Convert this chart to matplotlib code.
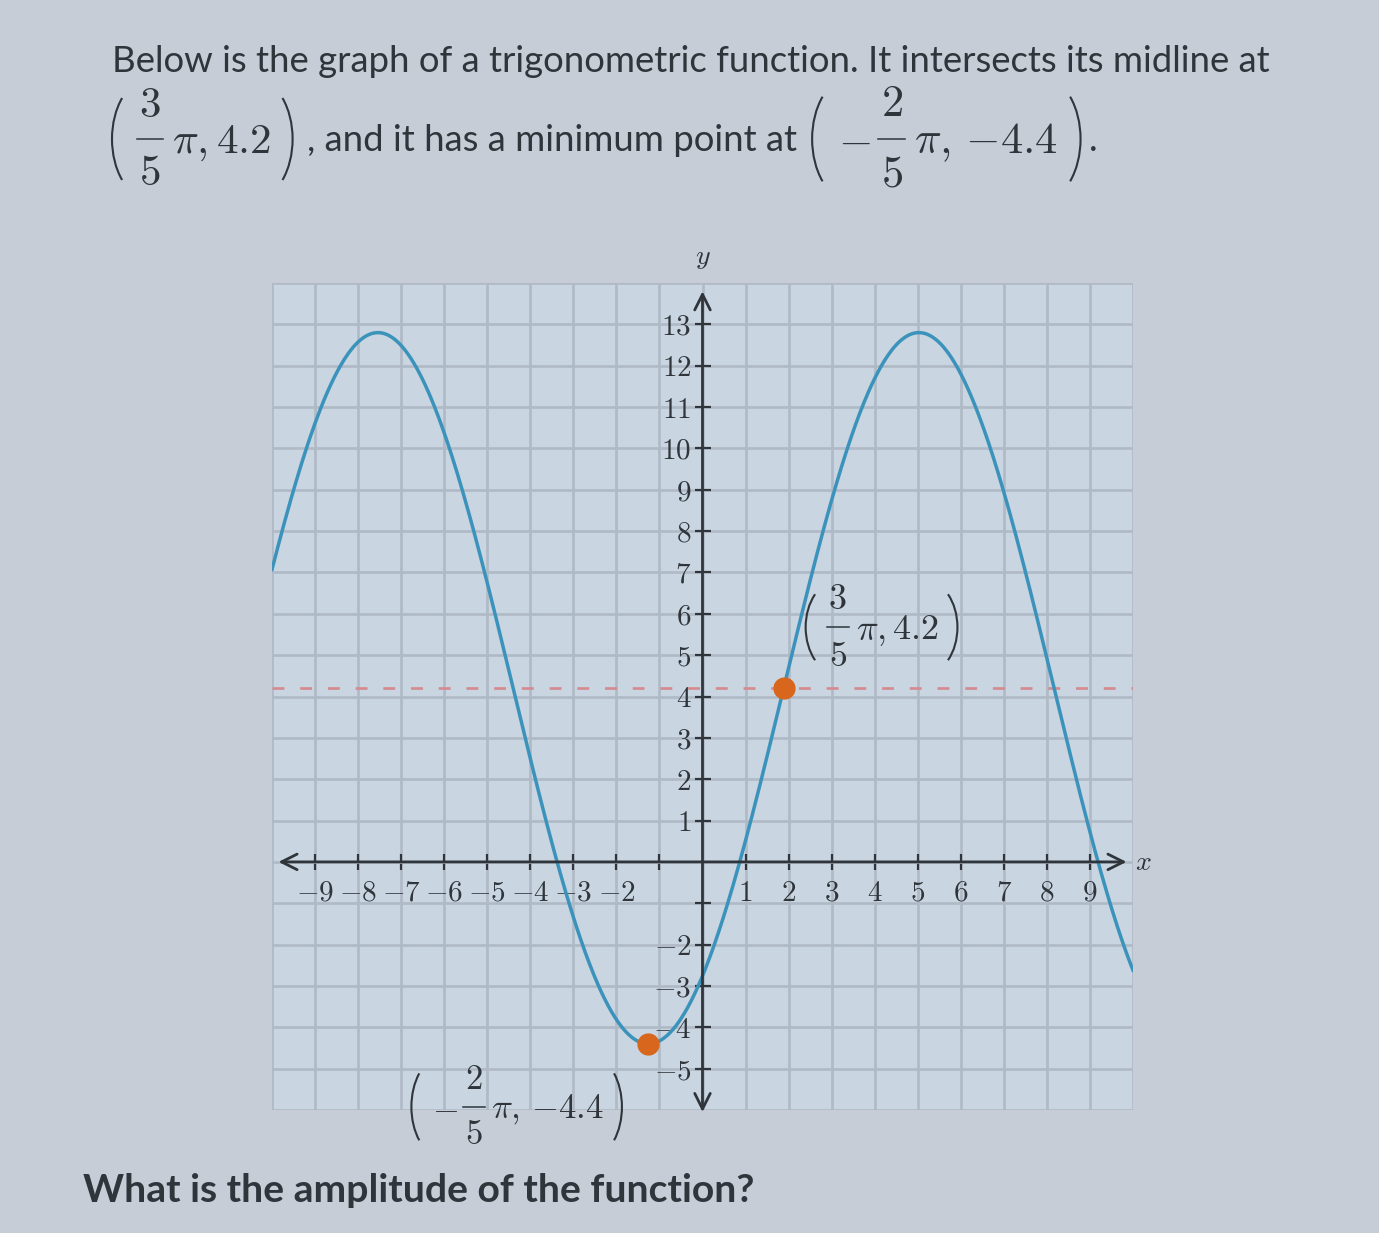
import matplotlib
matplotlib.use("Agg")
import matplotlib.pyplot as plt
from matplotlib.patches import Arc
import numpy as np

plt.rcParams['mathtext.fontset'] = 'cm'
plt.rcParams['font.family'] = ['Lato', 'DejaVu Sans']

# *** Data ***
# points stated in the problem
mid_x, mid_y = 3 / 5 * np.pi, 4.2      # midline crossing (rising)
min_x, min_y = -2 / 5 * np.pi, -4.4    # minimum point
# label pieces: (sign, numerator, denominator, rest)
mid_parts = ("", "3", "5", r"$\pi, 4.2$")
min_parts = ("-", "2", "5", r"$\pi,\,{-4.4}$")

x_ticks = [-9, -8, -7, -6, -5, -4, -3, -2, -1, 1, 2, 3, 4, 5, 6, 7, 8, 9]
x_tick_labels = ["-9", "-8", "-7", "-6", "-5", "-4", "-3", "-2", "",
                 "1", "2", "3", "4", "5", "6", "7", "8", "9"]
y_ticks = [-5, -4, -3, -2, -1, 1, 2, 3, 4, 5, 6, 7, 8, 9, 10, 11, 12, 13]
y_tick_labels = ["-5", "-4", "-3", "-2", "",
                 "1", "2", "3", "4", "5", "6", "7", "8", "9", "10", "11", "12", "13"]

title_1 = "Below is the graph of a trigonometric function. It intersects its midline at"
title_2 = ", and it has a minimum point at "
question = "What is the amplitude of the function?"

# Colours
BG = "#c6cdd6"
PLOT_BG = "#c9d5e0"
GRID = "#afbac6"
INK = "#2f353b"
CURVE = "#3b93bb"
POINT = "#d8661c"
DASH = "#d48a8e"

W, H = 1379, 1233
fig = plt.figure(figsize=(W / 100, H / 100), dpi=100, facecolor=BG)
ax = fig.add_axes([272 / W, 1 - 1110 / H, 861 / W, 827 / H])
ax.set_facecolor(PLOT_BG)
ax.set_xlim(-10, 10)
ax.set_ylim(-6, 14)

# axes through the origin
for side in ['top', 'right', 'left', 'bottom']:
    ax.spines[side].set_visible(False)
ax.spines['left'].set_position(('data', 0))
ax.spines['bottom'].set_position(('data', 0))

ax.set_xticks(x_ticks)
ax.set_xticklabels([f"${t}$" if t else "" for t in x_tick_labels])
ax.set_yticks(y_ticks)
ax.set_yticklabels([f"${t}$" if t else "" for t in y_tick_labels])
ax.tick_params(which='major', direction='inout', length=12, width=1.6,
               color=INK, labelcolor=INK, labelsize=21)
ax.tick_params(axis='x', pad=7)
ax.tick_params(axis='y', pad=2)

# grid on every unit (minor fills the spots without a major tick)
ax.set_xticks(np.arange(-10, 11), minor=True)
ax.set_yticks(np.arange(-6, 15), minor=True)
ax.tick_params(which='minor', length=0)
ax.grid(True, which='both', color=GRID, lw=1.9)
ax.set_axisbelow(True)

arrow = dict(arrowstyle='<->', lw=2.0, color=INK, mutation_scale=28, shrinkA=0, shrinkB=0)
ax.annotate('', xy=(9.85, 0), xytext=(-9.85, 0), arrowprops=arrow, annotation_clip=False)
ax.annotate('', xy=(0, 13.8), xytext=(0, -6.05), arrowprops=arrow, annotation_clip=False)
ax.text(10.05, 0, r"$x$", fontsize=20, color=INK, va='center', ha='left')
ax.text(0, 14.6, r"$y$", fontsize=20, color=INK, va='center', ha='center')

# midline
ml, = ax.plot([-10, 10], [mid_y, mid_y], color=DASH, lw=1.9)
ml.set_dashes([4.5, 6])

# the function: amplitude, period from the two given points
amp = mid_y - min_y
period = 4 * (mid_x - min_x)
xs = np.linspace(-10, 10, 1000)
ys = mid_y + amp * np.sin(2 * np.pi / period * (xs - mid_x))
ax.plot(xs, ys, color=CURVE, lw=2.5)
ax.plot([mid_x, min_x], [mid_y, min_y], 'o', color=POINT, ms=15, zorder=5)

# *** Overlay in pixel units (y down) for the text ***
ov = fig.add_axes([0, 0, 1, 1], zorder=10)
ov.set_xlim(0, W)
ov.set_ylim(H, 0)
ov.axis('off')
r = fig.canvas.get_renderer()


def width(t):
    return t.get_window_extent(r).width


def coord_label(x0, yc, fs, parts, half=1.8):
    """(sign num/den rest) with tall parentheses; fs in points."""
    sign, num, den, rest = parts
    h = 0.644 * fs * 1.389          # digit height in px
    a, b = 1.4 * h, half * h / 0.82
    ov.add_patch(Arc((x0 + a, yc), 2 * a, 2 * b, theta1=125, theta2=235,
                     lw=1.5, color=INK))
    x = x0 + 0.43 * a + 0.3 * h
    base = yc + 0.5 * h
    if sign:
        t = ov.text(x, base, "$-$", fontsize=fs, color=INK, va='baseline')
        x += width(t) + 0.25 * h
    fw = 0.95 * h
    ov.text(x + fw / 2, yc - 0.8 * h, f"${num}$", fontsize=fs, color=INK,
            ha='center', va='baseline')
    ov.text(x + fw / 2, yc + 1.65 * h, f"${den}$", fontsize=fs, color=INK,
            ha='center', va='baseline')
    ov.plot([x, x + fw], [yc, yc], color=INK, lw=1.1)
    x += fw + 0.3 * h
    t = ov.text(x, base, rest, fontsize=fs, color=INK, va='baseline')
    x += width(t) + 0.2 * h
    ov.add_patch(Arc((x - 0.574 * a, yc), 2 * a, 2 * b, theta1=-55, theta2=55,
                     lw=1.5, color=INK))
    return x + 0.43 * a


# title line 1, fitted to the reference width
t1 = ov.text(112, 62, title_1, fontsize=23, color=INK, va='center')
t1.set_fontsize(t1.get_fontsize() * 1161 / width(t1))
fs_body = t1.get_fontsize()

# title line 2
yc2 = 139
x = coord_label(112, yc2, 31, mid_parts)
t = ov.text(x + 14, yc2 + 12, title_2, fontsize=fs_body, color=INK, va='baseline')
x = coord_label(x + 14 + width(t) + 6, yc2, 32, min_parts)
ov.text(x + 8, yc2 + 12, ".", fontsize=fs_body, color=INK, va='baseline')

# point labels, placed relative to the points
px, py = ax.transData.transform((mid_x, mid_y))
coord_label(px + 22, (H - py) - 61, 26, mid_parts, half=1.65)
px, py = ax.transData.transform((min_x, min_y))
coord_label(px - 237, (H - py) + 63, 25, min_parts, half=1.85)

t3 = ov.text(83, 1190, question, fontsize=25, color=INK, va='center',
             fontweight='bold')
t3.set_fontsize(t3.get_fontsize() * 674 / width(t3))

fig.savefig("out.png", dpi=100, facecolor=BG)
